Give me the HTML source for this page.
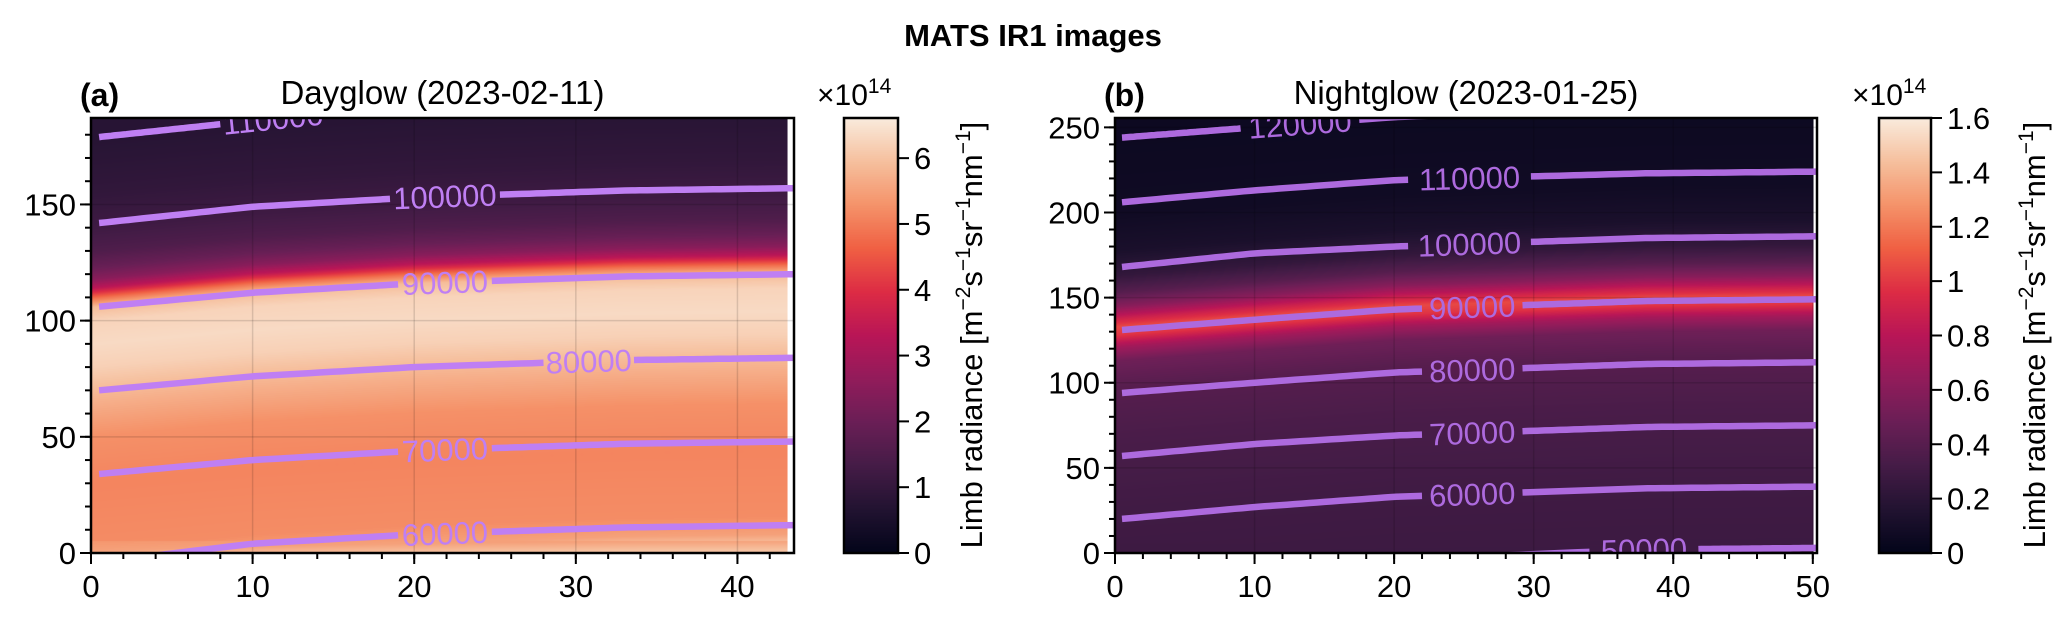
<!DOCTYPE html>
<html><head><meta charset="utf-8">
<style>
html,body{margin:0;padding:0;background:#fff;width:2067px;height:618px;overflow:hidden;}
#wrap{position:relative;width:2067px;height:618px;font-family:"Liberation Sans",sans-serif;}
canvas{position:absolute;}
svg{position:absolute;left:0;top:0;}
</style></head>
<body>
<div id="wrap">
<canvas id="heatA"></canvas>
<canvas id="heatB"></canvas>
<canvas id="cbA"></canvas>
<canvas id="cbB"></canvas>
<svg id="svg" width="2067" height="618" xmlns="http://www.w3.org/2000/svg"></svg>
</div>
<script>
// ---------- data ----------
const contourXA = [0.5, 10, 20, 33, 43.5];
const levelsA = ["110000","100000","90000","80000","70000","60000"];
const contourYA = [[179,186,193,198,200],[142,149,153,156,157],[106,112,116,119,120],[70,76,80,83,84],[34,40,44,47,48],[-4,4,8,11,12]];
const gapA = [[8,14.5],[18.5,25.3],[19,24.8],[28,33.6],[19,24.8],[19,24.8]];
const contourXB = [0.5, 10, 20, 38, 50.3];
const levelsB = ["120000","110000","100000","90000","80000","70000","60000","50000"];
const contourYB = [[244,250,256,262,264],[206,213,219,223,224],[168,176,180,185,186],[131,137,143,148,149],[94,100,106,111,112],[57,64,69,74,75],[20,27,33,38,39],[-16,-9,-4,2,3]];
const gapB = [[9,17.5],[21,29.8],[21,29.8],[22,29.2],[22,29.2],[22,29.2],[22,29.2],[34,41.8]];
// radiance profiles at x=20 (units 1e14)
const profAltA = [0,4,12,40,60,75,90,100,110,116,120,124,128,133,140,150,165,188];
const profValA = [6.0,5.5,5.2,5.1,5.25,5.7,6.2,6.35,6.25,5.9,4.8,3.4,2.5,1.95,1.5,1.2,0.95,0.75];
const profAltB = [0,40,80,110,125,133,140,145,150,157,165,175,190,210,256];
const profValB = [0.28,0.3,0.34,0.4,0.5,0.7,0.98,1.05,0.88,0.6,0.4,0.24,0.12,0.07,0.05];
const ticksXA = [0,10,20,30,40];
const ticksYA = [0,50,100,150];
const ticksXB = [0,10,20,30,40,50];
const ticksYB = [0,50,100,150,200,250];
const cbTicksA = [0,1,2,3,4,5,6];
const cbTicksB = [0,0.2,0.4,0.6,0.8,1,1.2,1.4,1.6];
const cbLabelsB = ["0","0.2","0.4","0.6","0.8","1","1.2","1.4","1.6"];

// ---------- layout ----------
const A = {x0:91,x1:794,y0:553,y1:118,xmin:0,xmax:43.5,ymin:0,ymax:187.2,imgX:43.1};
const B = {x0:1115,x1:1817,y0:553,y1:118,xmin:0,xmax:50.3,ymin:0,ymax:255.5,imgX:50.05};
function sx(P,v){return P.x0+(v-P.xmin)/(P.xmax-P.xmin)*(P.x1-P.x0);}
function sy(P,v){return P.y0-(v-P.ymin)/(P.ymax-P.ymin)*(P.y0-P.y1);}
function interp(xs,ys,x){if(x<=xs[0])return ys[0]+(x-xs[0])*(ys[1]-ys[0])/(xs[1]-xs[0]);
 for(let i=1;i<xs.length;i++){if(x<=xs[i]){const t=(x-xs[i-1])/(xs[i]-xs[i-1]);return ys[i-1]+t*(ys[i]-ys[i-1]);}}
 const n=xs.length;return ys[n-1]+(x-xs[n-1])*(ys[n-1]-ys[n-2])/(xs[n-1]-xs[n-2]);}
// rocket colormap
const cmap=[[3,5,26],[34,19,49],[69,28,71],[106,31,86],[146,28,91],[185,22,87],[221,44,69],[240,96,67],[245,147,106],[246,192,158],[250,235,221]];
function col(t){t=Math.max(0,Math.min(1,t));const f=t*10,i=Math.min(9,Math.floor(f)),r=f-i;const a=cmap[i],b=cmap[i+1];
 return [a[0]+(b[0]-a[0])*r,a[1]+(b[1]-a[1])*r,a[2]+(b[2]-a[2])*r];}

function heat(id,P,cx,cy,pa,pv,vmax){
 const c=document.getElementById(id);const w=Math.round(sx(P,P.imgX)-P.x0),h=P.y0-P.y1;
 c.width=w;c.height=h;c.style.left=P.x0+'px';c.style.top=P.y1+'px';
 const ctx=c.getContext('2d');const im=ctx.createImageData(w,h);const ref=interp(cx,cy,20);
 for(let i=0;i<w;i++){const xv=P.xmin+(i+0.5)/(P.x1-P.x0)*(P.xmax-P.xmin);const sh=interp(cx,cy,xv)-ref;
  for(let j=0;j<h;j++){const yv=P.ymax-(j+0.5)/h*(P.ymax-P.ymin);const s=Math.max(pa[0],Math.min(pa[pa.length-1],yv-sh*(yv>5?1:0.3)));
   const v=interp(pa,pv,s);const cc=col(v/vmax);const k=(j*w+i)*4;im.data[k]=cc[0];im.data[k+1]=cc[1];im.data[k+2]=cc[2];im.data[k+3]=255;}}
 ctx.putImageData(im,0,0);}
heat('heatA',A,contourXA,contourYA[2],profAltA,profValA,6.61);
heat('heatB',B,contourXB,contourYB[3],profAltB,profValB,1.6);
function cbar(id,x0,x1){const c=document.getElementById(id);const h=435;c.width=x1-x0;c.height=h;c.style.left=x0+'px';c.style.top='118px';
 const ctx=c.getContext('2d');for(let j=0;j<h;j++){const cc=col(1-j/h);ctx.fillStyle=`rgb(${cc[0]|0},${cc[1]|0},${cc[2]|0})`;ctx.fillRect(0,j,x1-x0,1);}}
cbar('cbA',844,898);cbar('cbB',1879,1931);

// ---------- svg ----------
const NS="http://www.w3.org/2000/svg";const svg=document.getElementById('svg');
function el(tag,attrs,parent){const e=document.createElementNS(NS,tag);for(const k in attrs)e.setAttribute(k,attrs[k]);(parent||svg).appendChild(e);return e;}
function txt(s,x,y,size,anchor,weight,fill,parent){const t=el('text',{x:x,y:y,'font-size':size,'text-anchor':anchor||'middle','font-weight':weight||'normal',fill:fill||'#000','font-family':'Liberation Sans, sans-serif'},parent);t.textContent=s;return t;}

const sup=txt('MATS IR1 images',1033,46,31,'middle','bold');



function panel(P,key,letter,title,cx,cy,levels,gaps,tx,ty,minorX,minorY,color){
 const g=el('g',{});
 
 
 el('rect',{x:sx(P,P.imgX),y:P.y1,width:P.x1-sx(P,P.imgX),height:P.y0-P.y1,fill:'#fff'},g);
 tx.forEach(v=>{const l=el('line',{x1:sx(P,v),x2:sx(P,v),y1:P.y1,y2:P.y0,stroke:'#000','stroke-opacity':0.13,'stroke-width':1.5},g);
  
  });
 ty.forEach(v=>{const l=el('line',{x1:P.x0,x2:P.x1,y1:sy(P,v),y2:sy(P,v),stroke:'#000','stroke-opacity':0.13,'stroke-width':1.5},g);
  
  });
 const clip=el('clipPath',{id:'clip'+key},g);el('rect',{x:P.x0,y:P.y1,width:P.x1-P.x0,height:P.y0-P.y1},clip);
 const cg=el('g',{'clip-path':'url(#clip'+key+')'},g);
 levels.forEach((lv,i)=>{
  const gp=gaps[i];
  const seg=(a,b)=>{let d='';const n=40;for(let k=0;k<=n;k++){const xv=a+(b-a)*k/n;d+=(k?'L':'M')+sx(P,xv).toFixed(1)+','+sy(P,interp(cx,cy[i],xv)).toFixed(1);}return d;};
  const p1=el('path',{d:seg(cx[0],gp[0])+seg(gp[1],cx[cx.length-1]),fill:'none',stroke:color,'stroke-width':6.5,'stroke-linecap':'butt'},cg);
  
  
  const mx=(gp[0]+gp[1])/2,my=interp(cx,cy[i],mx);
  const slope=(sy(P,interp(cx,cy[i],gp[1]))-sy(P,interp(cx,cy[i],gp[0])))/(sx(P,gp[1])-sx(P,gp[0]));
  const t=txt(lv,sx(P,mx),sy(P,my)+11,31,'middle','normal',color,cg);
  t.setAttribute('transform',`rotate(${(Math.atan(slope)*180/Math.PI).toFixed(2)} ${sx(P,mx)} ${sy(P,my)})`);
  
  
 });
 el('rect',{x:P.x0,y:P.y1,width:P.x1-P.x0,height:P.y0-P.y1,fill:'none',stroke:'#000','stroke-width':2.5},g);
 for(let v=0;v<=P.xmax;v+=minorX){const X=sx(P,v);el('line',{x1:X,x2:X,y1:P.y0,y2:P.y0+6,stroke:'#000','stroke-width':2},g);}
 for(let v=0;v<=P.ymax;v+=minorY){const Y=sy(P,v);el('line',{x1:P.x0,x2:P.x0-6,y1:Y,y2:Y,stroke:'#000','stroke-width':2},g);}
 tx.forEach(v=>{const X=sx(P,v);el('line',{x1:X,x2:X,y1:P.y0,y2:P.y0+11,stroke:'#000','stroke-width':2},g);
  const t=txt(String(v),X,P.y0+44,31,'middle','normal','#000',g);
  
  });
 ty.forEach(v=>{const Y=sy(P,v);el('line',{x1:P.x0,x2:P.x0-11,y1:Y,y2:Y,stroke:'#000','stroke-width':2},g);
  const t=txt(String(v),P.x0-15,Y+11,31,'end','normal','#000',g);
  
  });
 const lt=txt(letter,P.x0-11,106,32,'start','bold','#000',g);
 
 
 const tt=txt(title,(P.x0+P.x1)/2,104,33,'middle','normal','#000',g);
 
 
}
panel(A,'a','(a)','Dayglow (2023-02-11)',contourXA,contourYA,levelsA,gapA,ticksXA,ticksYA,2,10,'#bf7ff3');
panel(B,'b','(b)','Nightglow (2023-01-25)',contourXB,contourYB,levelsB,gapB,ticksXB,ticksYB,2,10,'#ad6ade');

function colorbar(key,x0,x1,vmax,ticks,labels,lx){
 const g=el('g',{});
 
 
 el('rect',{x:x0,y:118,width:x1-x0,height:435,fill:'none',stroke:'#000','stroke-width':2.5},g);
 ticks.forEach((v,i)=>{const Y=553-v/vmax*435;el('line',{x1:x1,x2:x1+11,y1:Y,y2:Y,stroke:'#000','stroke-width':2},g);
  const t=txt(labels[i],x1+16,Y+11,31,'start','normal','#000',g);
  
  });
 const m=el('text',{x:x0-27,y:105,'font-size':30,'font-family':'Liberation Sans, sans-serif'},g);
 
 
 m.innerHTML='×10<tspan dy="-12" font-size="21">14</tspan>';
 const lab=el('text',{x:0,y:0,'font-size':31,'text-anchor':'middle','font-family':'Liberation Sans, sans-serif',transform:`translate(${lx},335) rotate(-90)`},g);
 
 
 lab.innerHTML='Limb radiance [m<tspan dy="-12" font-size="21">−2</tspan><tspan dy="12">s</tspan><tspan dy="-12" font-size="21">−1</tspan><tspan dy="12">sr</tspan><tspan dy="-12" font-size="21">−1</tspan><tspan dy="12">nm</tspan><tspan dy="-12" font-size="21">−1</tspan><tspan dy="12">]</tspan>';
}
colorbar('a',844,898,6.61,cbTicksA,cbTicksA.map(String),982);
colorbar('b',1879,1931,1.6,cbTicksB,cbLabelsB,2045);
</script>
</body></html>
